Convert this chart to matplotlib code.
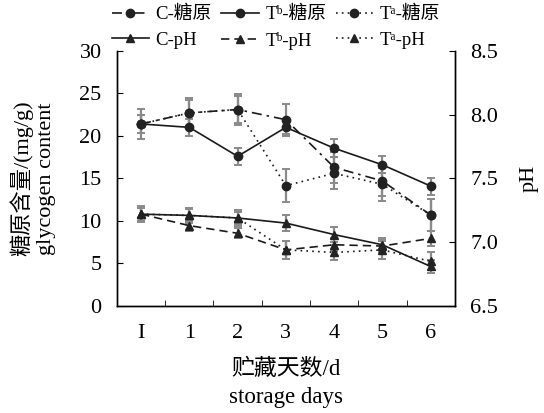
import matplotlib
matplotlib.use("Agg")
import matplotlib.pyplot as plt
from matplotlib.ticker import FixedLocator, FormatStrFormatter

plt.rcParams['font.family'] = ['Liberation Serif', 'DejaVu Serif', 'Noto Sans CJK SC']

days = ["I", "1", "2", "3", "4", "5", "6"]

# glycogen, mg/g
gly_c = [21.4, 22.7, 23.1, 21.9, 16.3, 14.7, 10.7]
gly_c_err = [1.8, 1.8, 1.8, 1.9, 1.8, 1.8, 1.9]
gly_tb = [21.4, 21.0, 17.6, 21.0, 18.55, 16.6, 14.1]
gly_tb_err = [1.1, 1.0, 1.0, 0.8, 1.05, 1.0, 1.0]
gly_ta = [21.4, 22.7, 23.1, 14.15, 15.6, 14.3, 10.7]
gly_ta_err = [1.1, 1.5, 1.6, 1.9, 1.9, 1.9, 1.9]

# pH
ph_c = [7.22, 7.21, 7.19, 7.15, 7.06, 6.98, 6.81]
ph_c_err = [0.06, 0.06, 0.06, 0.06, 0.06, 0.05, 0.05]
ph_tb = [7.22, 7.13, 7.07, 6.94, 6.98, 6.97, 7.03]
ph_tb_err = [0.05, 0.04, 0.04, 0.07, 0.05, 0.05, 0.06]
ph_ta = [7.22, 7.21, 7.19, 6.94, 6.92, 6.94, 6.85]
ph_ta_err = [0.05, 0.05, 0.05, 0.07, 0.06, 0.07, 0.07]

x = list(range(len(days)))

fig = plt.figure(figsize=(5.44, 4.13), dpi=100)
ax = fig.add_axes([0.215, 0.259, 0.621, 0.618])
ax2 = ax.twinx()

dashdot = (0, (6, 3, 1.5, 3))
dashed = (0, (5, 3))
dotted = (0, (1, 2.5))
ecol = "#8a8a8a"
mcol = "#222222"


def series(a, y, err, ls, marker, label):
    a.errorbar(x, y, yerr=err, fmt="none", ecolor=ecol, elinewidth=1.6,
               capsize=3, capthick=1.4, zorder=2)
    ln, = a.plot(x, y, color="#1a1a1a", lw=1.2, linestyle=ls, marker=marker,
                 markersize=6, markerfacecolor=mcol, markeredgecolor=mcol,
                 label=label, zorder=3)
    return ln


h1 = series(ax, gly_c, gly_c_err, dashdot, "o", "C-糖原")
h2 = series(ax, gly_tb, gly_tb_err, "-", "o", "Tᵇ-糖原")
h3 = series(ax, gly_ta, gly_ta_err, dotted, "o", "Tᵃ-糖原")
h4 = series(ax2, ph_c, ph_c_err, "-", "^", "C-pH")
h5 = series(ax2, ph_tb, ph_tb_err, dashed, "^", "Tᵇ-pH")
h6 = series(ax2, ph_ta, ph_ta_err, dotted, "^", "Tᵃ-pH")

ax.set_xlim(-0.5, 6.5)
ax.set_ylim(0, 30)
ax2.set_ylim(6.5, 8.5)
ax.set_yticks(range(0, 31, 5))
ax2.set_yticks([6.5, 7.0, 7.5, 8.0, 8.5])
ax2.yaxis.set_major_formatter(FormatStrFormatter("%.1f"))

ax.set_xticks(x)
ax.set_xticklabels(days)
ax.xaxis.set_minor_locator(FixedLocator([i + 0.5 for i in range(6)]))
ax.tick_params(axis="x", which="major", length=0, pad=13, labelsize=16)
ax.tick_params(axis="x", which="minor", direction="in", length=4)
ax.tick_params(axis="y", direction="in", length=4, labelsize=16, pad=11)
ax2.tick_params(axis="y", direction="in", length=4, labelsize=16, pad=11)

for a in (ax, ax2):
    a.spines["top"].set_visible(False)
    for s in ("left", "right", "bottom"):
        a.spines[s].set_linewidth(1.0)

ax.set_ylabel("糖原含量/(mg/g)\nglycogen content", fontsize=16, labelpad=17,
              linespacing=1.25)
ax2.set_ylabel("pH", fontsize=16, labelpad=16)
ax.set_xlabel("贮藏天数/d\nstorage days", fontsize=16.5, labelpad=11,
              linespacing=1.45)

# row-major order for a 3-column legend
handles = [h1, h4, h2, h5, h3, h6]
fig.legend(handles=handles, ncol=3, frameon=False,
           loc="center", bbox_to_anchor=(0.507, 0.933), fontsize=13.5,
           handlelength=2.0, handletextpad=0.35, columnspacing=0.5,
           labelspacing=0.45, borderaxespad=0, borderpad=0)

fig.savefig("out.png", dpi=100)
